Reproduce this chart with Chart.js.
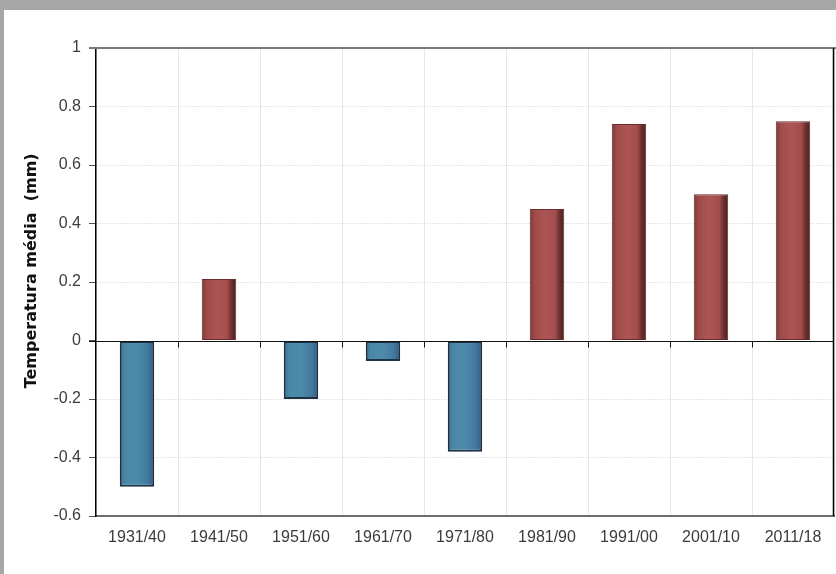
<!DOCTYPE html>
<html>
<head>
<meta charset="utf-8">
<script src="https://cdn.jsdelivr.net/npm/chart.js@4.4.1/dist/chart.umd.min.js"></script>
<style>
  html, body { margin: 0; padding: 0; background: #a6a6a6; }
  #sheet { position: absolute; left: 4px; top: 10px; width: 832px; height: 564px; background: #ffffff; }
  #wrap { position: absolute; left: 0; top: 0; width: 836px; height: 574px; }
</style>
</head>
<body>
<div id="sheet"></div>
<div id="wrap"><canvas id="c" width="836" height="574"></canvas></div>
<script>
// Decades and mean temperature anomaly for each
const decades = ['1931/40', '1941/50', '1951/60', '1961/70', '1971/80', '1981/90', '1991/00', '2001/10', '2011/18'];
const anomalies = [-0.5, 0.21, -0.2, -0.07, -0.38, 0.45, 0.74, 0.5, 0.75];
const yTicks = [-0.6, -0.4, -0.2, 0, 0.2, 0.4, 0.6, 0.8, 1];

const BAR_PCT = 0.42;
const LABEL_FONT = { family: 'Liberation Sans, Arial, sans-serif', size: 16 };

// Cylinder-like horizontal shading for each bar
function barFill(ctx) {
  const chart = ctx.chart;
  const xs = chart.scales.x;
  const v = anomalies[ctx.dataIndex];
  const flat = v >= 0 ? '#a85050' : '#4a88a6';
  if (!xs || ctx.dataIndex === undefined) return flat;
  const cx = xs.getPixelForValue(ctx.dataIndex);
  const half = (xs.width / decades.length) * BAR_PCT / 2;
  if (!isFinite(cx) || !isFinite(half) || half <= 0) return flat;
  const g = chart.ctx.createLinearGradient(cx - half, 0, cx + half, 0);
  if (v >= 0) {
    g.addColorStop(0, '#7a3838');
    g.addColorStop(0.14, '#a04b4b');
    g.addColorStop(0.45, '#ad5555');
    g.addColorStop(0.74, '#a24d4d');
    g.addColorStop(0.86, '#6e3030');
    g.addColorStop(1, '#4a2020');
  } else {
    g.addColorStop(0, '#3a6f8c');
    g.addColorStop(0.15, '#4a88a6');
    g.addColorStop(0.5, '#4d8bab');
    g.addColorStop(0.8, '#4479a0');
    g.addColorStop(1, '#335e80');
  }
  return g;
}

// Frame lines, solid zero line and its small ticks at category boundaries
const framePlugin = {
  id: 'frame',
  afterDatasetsDraw(chart) {
    const { ctx, chartArea: a, scales } = chart;
    const xs = scales.x, ys = scales.y;
    const y0 = Math.round(ys.getPixelForValue(0)) + 0.5;
    ctx.save();
    ctx.strokeStyle = '#111';
    ctx.lineWidth = 1;
    ctx.beginPath();
    ctx.moveTo(a.left - 7, y0);
    ctx.lineTo(a.right, y0);
    const n = decades.length;
    for (let i = 1; i < n; i++) {
      const bx = Math.round((xs.getPixelForValue(i - 1) + xs.getPixelForValue(i)) / 2) + 0.5;
      ctx.moveTo(bx, y0);
      ctx.lineTo(bx, y0 + 6);
    }
    ctx.stroke();
    // top edge
    ctx.strokeStyle = '#7a7a7a';
    ctx.lineWidth = 2;
    ctx.beginPath();
    ctx.moveTo(a.left - 7, ys.getPixelForValue(1));
    ctx.lineTo(chart.width, ys.getPixelForValue(1));
    ctx.stroke();
    // right edge
    ctx.strokeStyle = '#000';
    ctx.lineWidth = 1.5;
    ctx.beginPath();
    ctx.moveTo(a.right - 0.5, ys.getPixelForValue(1));
    ctx.lineTo(a.right - 0.5, a.bottom);
    ctx.stroke();
    ctx.restore();
  }
};

const chart = new Chart(document.getElementById('c'), {
  type: 'bar',
  data: {
    labels: decades,
    datasets: [{
      data: anomalies,
      backgroundColor: barFill,
      borderColor: (ctx) => anomalies[ctx.dataIndex] >= 0 ? '#6a2c2c' : '#1e3044',
      borderWidth: (ctx) => anomalies[ctx.dataIndex] >= 0 ? 1 : 2,
      borderSkipped: false,
      barPercentage: BAR_PCT,
      categoryPercentage: 1
    }]
  },
  options: {
    responsive: false,
    animation: false,
    devicePixelRatio: 1,
    layout: { padding: { top: 48, right: 2, left: 0, bottom: 0 } },
    plugins: { legend: { display: false }, tooltip: { enabled: false } },
    scales: {
      x: {
        grid: { color: '#e6e6e6', lineWidth: 1, drawTicks: false, offset: true },
        border: { color: '#6e6e6e', width: 2 },
        ticks: { color: '#3c3c3c', font: LABEL_FONT, padding: 12, maxRotation: 0 },
        afterFit: (s) => { s.height = 58; }
      },
      y: {
        min: -0.6,
        max: 1,
        afterBuildTicks: (s) => { s.ticks = yTicks.map(v => ({ value: v })); },
        grid: {
          color: (ctx) => (ctx.tick && (ctx.tick.value === 0 || ctx.tick.value === 1)) ? 'rgba(0,0,0,0)' : '#cfcfcf',
          lineWidth: 1,
          tickLength: 7,
          tickColor: '#555',
          tickWidth: 1
        },
        border: { color: '#000', width: 1.5, dash: [1, 2] },
        ticks: {
          color: '#3c3c3c',
          font: LABEL_FONT,
          padding: 8,
          callback: (v) => String(Math.round(v * 10) / 10)
        },
        title: {
          display: true,
          text: '    Temperatura média  (mm)',
          color: '#111',
          font: { family: 'DejaVu Sans, sans-serif', size: 16, weight: 'bold' },
          padding: { top: 22, bottom: 0 }
        },
        afterFit: (s) => { s.width = 96; }
      }
    }
  },
  plugins: [framePlugin]
});
chart.update();
</script>
</body>
</html>
